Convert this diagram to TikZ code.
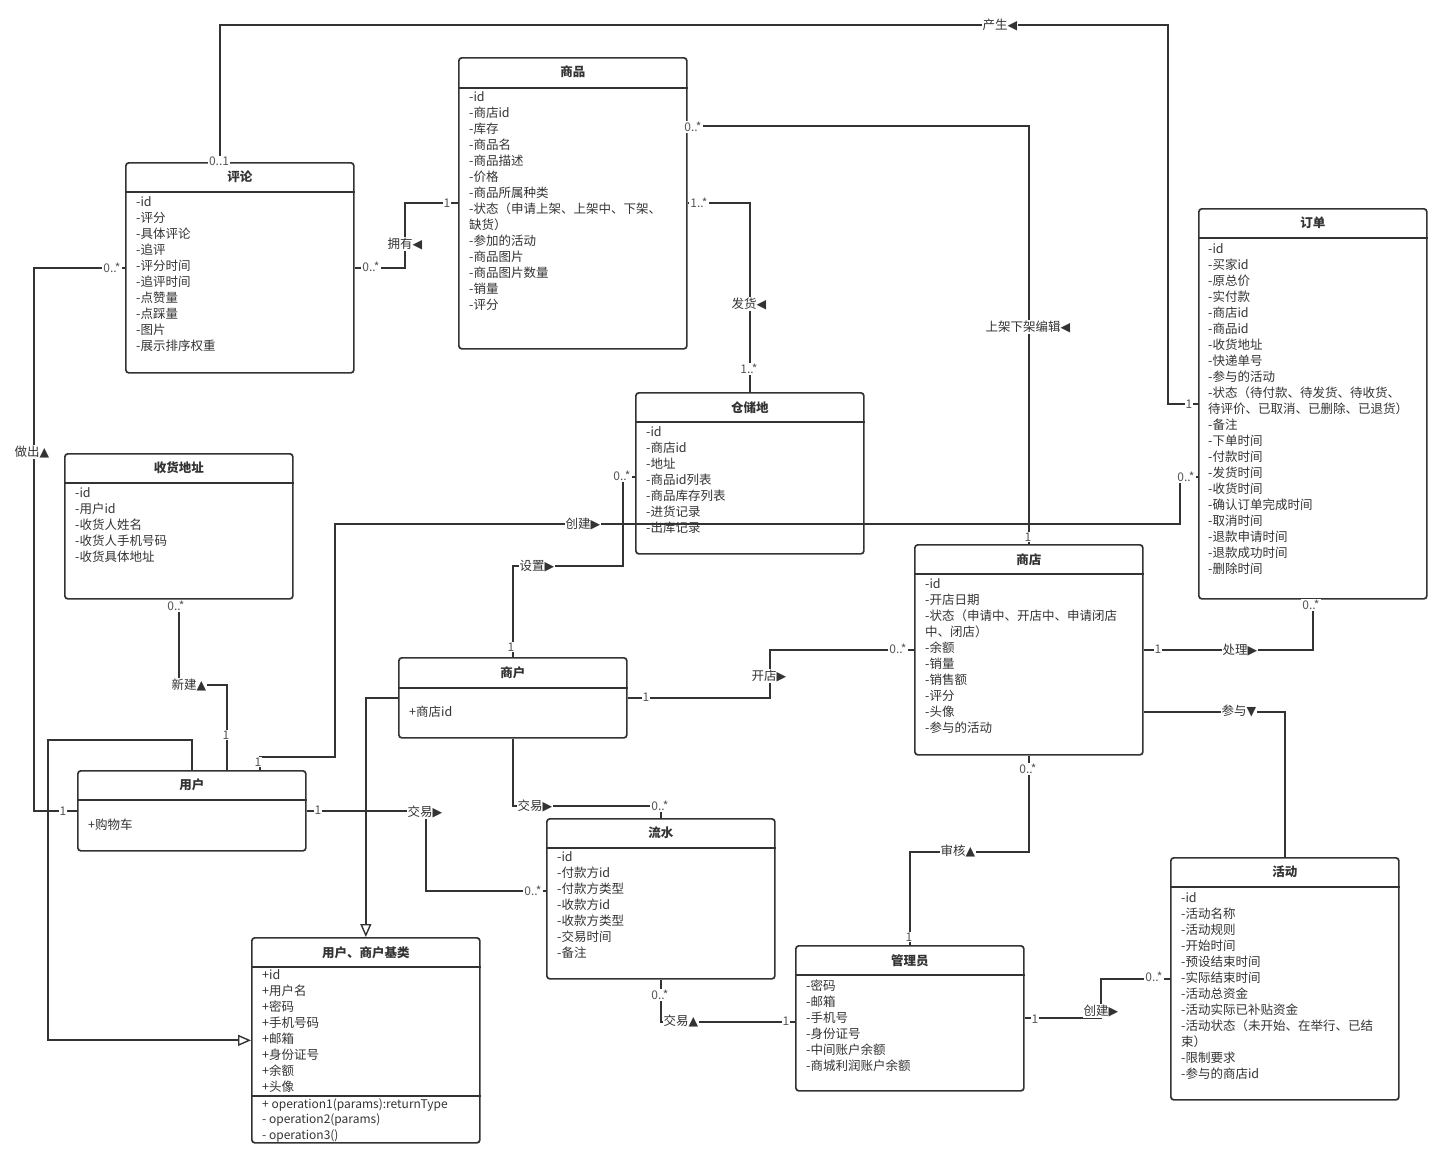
\documentclass[tikz,border=0pt]{standalone}
\usepackage{fontspec}
\setmainfont{Noto Sans CJK SC}
\newfontfamily\symf{DejaVu Sans}
\usetikzlibrary{arrows.meta}
\definecolor{ink}{HTML}{333333}
\definecolor{mulc}{HTML}{555555}
\begin{document}
\begin{tikzpicture}
[x=1pt, y=-1pt,
 box/.style={draw=ink, line width=1.7pt, rounded corners=3pt, anchor=north west, inner sep=0pt, minimum width=228pt},
 dv/.style={draw=ink, line width=1.7pt},
 ttl/.style={font=\fontsize{12.5}{15}\selectfont\bfseries, text=ink},
 att/.style={font=\fontsize{12.5}{16}\selectfont, text=ink, align=left, anchor=north west, inner sep=0pt},
 rel/.style={draw=ink, line width=1.8pt},
 gen/.style={rel, -{Triangle[fill=white, length=13pt, width=11pt, line width=1.4pt]}},
 mul/.style={font=\fontsize{12}{14}\selectfont, text=mulc, fill=white, inner sep=1pt},
 lab/.style={font=\fontsize{12.5}{15}\selectfont, text=ink, fill=white, inner sep=1pt}]
\useasboundingbox (0,0) rectangle (1451,1167);
% classes
\node[box, minimum height=210pt] (pl) at (125,162) {};
\node[ttl] (pl-t) at ([yshift=-15]pl.north) {评论};
\draw[dv] ([yshift=-30]pl.north west) -- ([yshift=-30]pl.north east);
\node[att] (pl-a) at ([xshift=11,yshift=-34]pl.north west) {-id\\-评分\\-具体评论\\-追评\\-评分时间\\-追评时间\\-点赞量\\-点踩量\\-图片\\-展示排序权重};

\node[box, minimum height=291pt] (sp) at (458,57) {};
\node[ttl] (sp-t) at ([yshift=-15]sp.north) {商品};
\draw[dv] ([yshift=-31]sp.north west) -- ([yshift=-31]sp.north east);
\node[att] (sp-a) at ([xshift=11,yshift=-34]sp.north west) {-id\\-商店id\\-库存\\-商品名\\-商品描述\\-价格\\-商品所属种类\\-状态（申请上架、上架中、下架、\\缺货）\\-参加的活动\\-商品图片\\-商品图片数量\\-销量\\-评分};

\node[box, minimum height=390pt] (dd) at (1198,208) {};
\node[ttl] (dd-t) at ([yshift=-15]dd.north) {订单};
\draw[dv] ([yshift=-30]dd.north west) -- ([yshift=-30]dd.north east);
\node[att] (dd-a) at ([xshift=10,yshift=-35]dd.north west) {-id\\-买家id\\-原总价\\-实付款\\-商店id\\-商品id\\-收货地址\\-快递单号\\-参与的活动\\-状态（待付款、待发货、待收货、\\待评价、已取消、已删除、已退货）\\-备注\\-下单时间\\-付款时间\\-发货时间\\-收货时间\\-确认订单完成时间\\-取消时间\\-退款申请时间\\-退款成功时间\\-删除时间};

\node[box, minimum height=161pt] (ccd) at (635,392) {};
\node[ttl] (ccd-t) at ([yshift=-16]ccd.north) {仓储地};
\draw[dv] ([yshift=-30]ccd.north west) -- ([yshift=-30]ccd.north east);
\node[att] (ccd-a) at ([xshift=11,yshift=-34]ccd.north west) {-id\\-商店id\\-地址\\-商品id列表\\-商品库存列表\\-进货记录\\-出库记录};

\node[box, minimum height=145pt] (shdz) at (64,453) {};
\node[ttl] (shdz-t) at ([yshift=-15]shdz.north) {收货地址};
\draw[dv] ([yshift=-30]shdz.north west) -- ([yshift=-30]shdz.north east);
\node[att] (shdz-a) at ([xshift=11,yshift=-34]shdz.north west) {-id\\-用户id\\-收货人姓名\\-收货人手机号码\\-收货具体地址};

\node[box, minimum height=210pt] (sd) at (914,544) {};
\node[ttl] (sd-t) at ([yshift=-16]sd.north) {商店};
\draw[dv] ([yshift=-30]sd.north west) -- ([yshift=-30]sd.north east);
\node[att] (sd-a) at ([xshift=11,yshift=-34]sd.north west) {-id\\-开店日期\\-状态（申请中、开店中、申请闭店\\中、闭店）\\-余额\\-销量\\-销售额\\-评分\\-头像\\-参与的活动};

\node[box, minimum height=80pt] (sh) at (398,657) {};
\node[ttl] (sh-t) at ([yshift=-16]sh.north) {商户};
\draw[dv] ([yshift=-31]sh.north west) -- ([yshift=-31]sh.north east);
\node[att] (sh-a) at ([xshift=11,yshift=-49]sh.north west) {+商店id};

\node[box, minimum height=80pt] (yh) at (77,770) {};
\node[ttl] (yh-t) at ([yshift=-15]yh.north) {用户};
\draw[dv] ([yshift=-30]yh.north west) -- ([yshift=-30]yh.north east);
\node[att] (yh-a) at ([xshift=11,yshift=-49]yh.north west) {+购物车};

\node[box, minimum height=160pt] (ls) at (546,818) {};
\node[ttl] (ls-t) at ([yshift=-15]ls.north) {流水};
\draw[dv] ([yshift=-30]ls.north west) -- ([yshift=-30]ls.north east);
\node[att] (ls-a) at ([xshift=11,yshift=-33]ls.north west) {-id\\-付款方id\\-付款方类型\\-收款方id\\-收款方类型\\-交易时间\\-备注};

\node[box, minimum height=205pt] (jl) at (251,937) {};
\node[ttl] (jl-t) at ([yshift=-16]jl.north) {用户、商户基类};
\draw[dv] ([yshift=-30]jl.north west) -- ([yshift=-30]jl.north east);
\node[att] (jl-a) at ([xshift=11,yshift=-32]jl.north west) {+id\\+用户名\\+密码\\+手机号码\\+邮箱\\+身份证号\\+余额\\+头像};
\draw[dv] ([yshift=-159]jl.north west) -- ([yshift=-159]jl.north east);
\node[att, font=\fontsize{12}{15.5}\selectfont] (jl-o) at ([xshift=11,yshift=-161]jl.north west) {+ operation1(params):returnType\\- operation2(params)\\- operation3()};

\node[box, minimum height=145pt] (gly) at (795,945) {};
\node[ttl] (gly-t) at ([yshift=-16]gly.north) {管理员};
\draw[dv] ([yshift=-30]gly.north west) -- ([yshift=-30]gly.north east);
\node[att] (gly-a) at ([xshift=11,yshift=-35]gly.north west) {-密码\\-邮箱\\-手机号\\-身份证号\\-中间账户余额\\-商城利润账户余额};

\node[box, minimum height=242pt] (hd) at (1170,857) {};
\node[ttl] (hd-t) at ([yshift=-15]hd.north) {活动};
\draw[dv] ([yshift=-30]hd.north west) -- ([yshift=-30]hd.north east);
\node[att] (hd-a) at ([xshift=11,yshift=-35]hd.north west) {-id\\-活动名称\\-活动规则\\-开始时间\\-预设结束时间\\-实际结束时间\\-活动总资金\\-活动实际已补贴资金\\-活动状态（未开始、在举行、已结\\束）\\-限制要求\\-参与的商店id};
% connectors
\draw[rel] ([xshift=95]pl.north west) |- (1168,25) |- (dd.west);
\draw[rel] (pl.east) -| ([xshift=-53]sp.west) -- (sp.west);
\draw[rel] ([yshift=-69]sp.north east) -| (sd.north);
\draw[rel] (sp.east) -| (ccd.north);
\draw[rel] ([xshift=-47]yh.north east) |- (335,757) |- (1180,524) |- ([yshift=-269]dd.north west);
\draw[rel] (sh.north) |- (623,566) |- ([yshift=-85]ccd.north west);
\draw[rel] (shdz.south) |- ([xshift=35,yshift=85]yh.north) -- ([xshift=35]yh.north);
\draw[rel] (pl.west) -| ([xshift=-43]yh.west) -- (yh.west);
\draw[gen] (yh.north) |- (48,740) |- (jl.west);
\draw[gen] (sh.west) -| (jl.north);
\draw[rel] (yh.east) -| ([xshift=-120,yshift=-73]ls.north west) -- ([yshift=-73]ls.north west);
\draw[rel] (sh.south) |- ([yshift=12]ls.north) -- (ls.north);
\draw[rel] (ls.south) |- ([yshift=-3.5]gly.west);
\draw[rel] (sh.east) -| ([xshift=-144]sd.west) -- (sd.west);
\draw[rel] (sd.east) -| (dd.south);
\draw[rel] ([yshift=-62]sd.east) -| (hd.north);
\draw[rel] (gly.north) |- ([yshift=-96]sd.south) -- (sd.south);
\draw[rel] (gly.east) -| ([xshift=-69]hd.west) -- (hd.west);
% association names
\node[lab] (l-cs) at (1000,25) {产生{\symf ◀}};
\node[lab] (l-yy) at (405,244) {拥有{\symf ◀}};
\node[lab] (l-sj) at (1028,327) {上架下架编辑{\symf ◀}};
\node[lab] (l-fh) at (749,304) {发货{\symf ◀}};
\node[lab] (l-cj) at (583,524) {创建{\symf ▶}};
\node[lab] (l-sz) at (537,566) {设置{\symf ▶}};
\node[lab] (l-xj) at (189,685) {新建{\symf ▲}};
\node[lab] (l-zc) at (32,452) {做出{\symf ▲}};
\node[lab] (l-jy1) at (425,812) {交易{\symf ▶}};
\node[lab] (l-jy2) at (535,806) {交易{\symf ▶}};
\node[lab] (l-jy3) at (681,1021) {交易{\symf ▲}};
\node[lab] (l-kd) at (769,676) {开店{\symf ▶}};
\node[lab] (l-cl) at (1240,650) {处理{\symf ▶}};
\node[lab] (l-cy) at (1239,711) {参与{\symf ▼}};
\node[lab] (l-shh) at (958,851) {审核{\symf ▲}};
\node[lab] (l-cj2) at (1101,1011) {创建{\symf ▶}};
% multiplicities
\node[mul] (m1) at (219,161) {0..1};
\node[mul] (m2) at (1189,404) {1};
\node[mul] (m3) at (371,267) {0..*};
\node[mul] (m4) at (447,203) {1};
\node[mul] (m5) at (693,127) {0..*};
\node[mul] (m6) at (699,203) {1..*};
\node[mul] (m7) at (1028,537) {1};
\node[mul] (m8) at (749,369) {1..*};
\node[mul] (m9) at (1186,477) {0..*};
\node[mul] (m10) at (258,762) {1};
\node[mul] (m11) at (622,476) {0..*};
\node[mul] (m12) at (511,647) {1};
\node[mul] (m13) at (176,606) {0..*};
\node[mul] (m14) at (226,735) {1};
\node[mul] (m15) at (112,268) {0..*};
\node[mul] (m16) at (63,811) {1};
\node[mul] (m17) at (318,810) {1};
\node[mul] (m18) at (533,891) {0..*};
\node[mul] (m19) at (660,806) {0..*};
\node[mul] (m20) at (660,995) {0..*};
\node[mul] (m21) at (786,1021) {1};
\node[mul] (m22) at (646,697) {1};
\node[mul] (m23) at (898,649) {0..*};
\node[mul] (m24) at (1158,649) {1};
\node[mul] (m25) at (1311,605) {0..*};
\node[mul] (m26) at (1028,769) {0..*};
\node[mul] (m27) at (909,937) {1};
\node[mul] (m28) at (1035,1019) {1};
\node[mul] (m29) at (1154,977) {0..*};
\end{tikzpicture}
\end{document}
